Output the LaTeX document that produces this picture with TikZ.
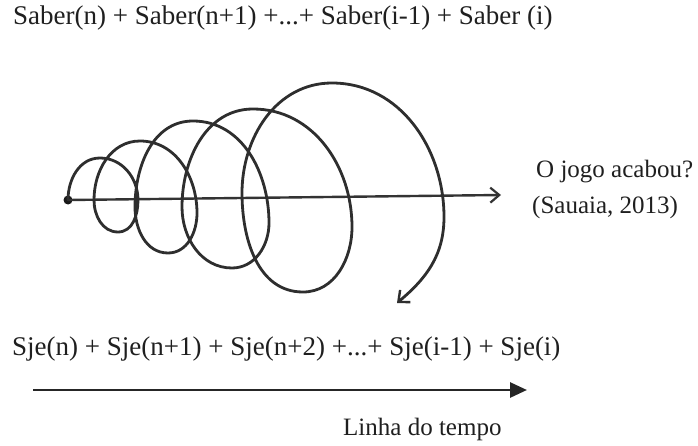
\documentclass[tikz,border=0pt]{standalone}
\usepackage{fontspec}
\setmainfont{Liberation Serif}
\usepackage{tikz}
\usetikzlibrary{arrows.meta}

\begin{document}
\begin{tikzpicture}[x=1pt, y=1pt,
    txt/.style={inner sep=0pt, anchor=base west, text=black!88, font=\fontsize{27}{32}\selectfont},
    smalltxt/.style={txt, font=\fontsize{25}{30}\selectfont},
    spiral/.style={line width=2.8pt, black!82, line cap=round},
    axisline/.style={line width=2.4pt, black!80, -{Straight Barb[length=9pt, width=15pt, line width=2.2pt]}},
    timeline/.style={line width=2.8pt, black!85, -{Triangle[length=17pt, width=15pt]}},
    startdot/.style={circle, fill=black!90, minimum size=9pt, inner sep=0pt}]

    \useasboundingbox (0,0) rectangle (698,445);

    \node[txt] (saber) at (13,420) {Saber(n) + Saber(n+1) +...+ Saber(i-1) + Saber (i)};

    \node[startdot] (start) at (68,245) {};
    \coordinate (axisend) at (501,250);
    \draw[axisline] (start.center) -- (axisend);

    \draw[spiral, -{Straight Barb[length=9pt, width=16pt, line width=2.4pt]}]
        (start.center) to[out=90, in=180] (100,287)
        to[out=0, in=90] (138,245) to[out=-90, in=0] (118,213)
        to[out=180, in=-90] (94,245) to[out=90, in=180] (140,304)
        to[out=0, in=90] (197,232) to[out=-90, in=0] (168,192)
        to[out=180, in=-90] (135,238) to[out=90, in=180] (193,324)
        to[out=0, in=90] (269,222) to[out=-90, in=0] (232,177)
        to[out=180, in=-90] (182,238) to[out=90, in=180] (253,336)
        to[out=0, in=90] (352,218) to[out=-90, in=0] (303,153)
        to[out=180, in=-90] (242,252) to[out=90, in=180] (332,362)
        to[out=0, in=90] (444,228) to[out=-90, in=40] (397,142);

    \node[smalltxt] (question) at (536,267) {O jogo acabou?};
    \node[smalltxt] (source) at (532,232) {(Sauaia, 2013)};

    \node[txt] (sje) at (12,90) {Sje(n) + Sje(n+1) + Sje(n+2) +...+ Sje(i-1) + Sje(i)};

    \coordinate (timestart) at (33,55);
    \coordinate (timeend) at (527,55);
    \draw[timeline] (timestart) -- (timeend);
    \node[smalltxt] (linha) at (343,10) {Linha do tempo};

\end{tikzpicture}
\end{document}
